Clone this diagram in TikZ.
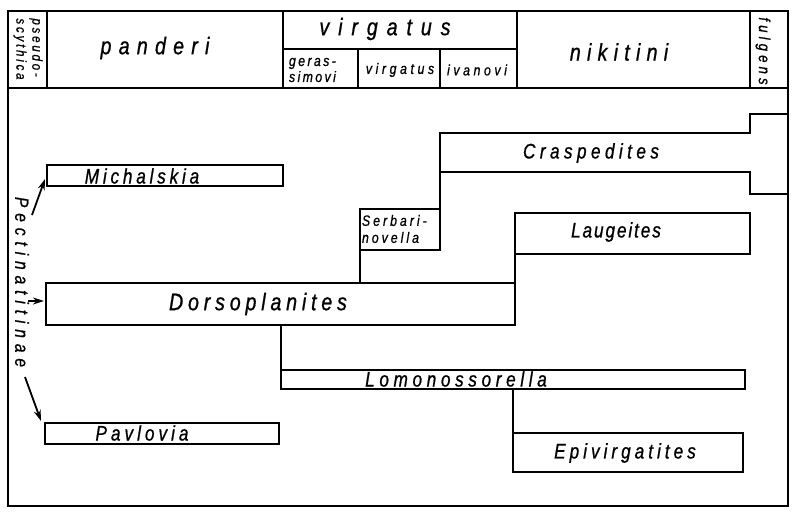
\documentclass[tikz,border=0pt]{standalone}
\usepackage{fontspec}
\setmainfont{Liberation Sans}
\newfontfamily\labf{Liberation Sans}[FakeStretch=0.82,FakeBold=0.8]
\usetikzlibrary{arrows.meta}
\newcommand{\lf}[3]{\labf\fontsize{#1}{#2}\selectfont\itshape\addfontfeature{LetterSpace=#3}}
\tikzset{
  box/.style={draw, rectangle, inner sep=0pt, outer sep=0pt, anchor=north west},
  lbl/.style={inner sep=0pt, outer sep=0pt},
  arr/.style={line width=1.8pt, -{Stealth[length=11pt,width=7pt]}}
}
\begin{document}
\begin{tikzpicture}[x=1pt,y=-1pt,line width=1.6pt]
\useasboundingbox (0,0) rectangle (797,517);
% frame and header cells
\node[box, minimum width=780pt, minimum height=495pt] (frame) at (8,11) {};
\node[box, minimum width=39pt, minimum height=77pt] (hpseudo) at (8,11) {};
\node[box, minimum width=236pt, minimum height=77pt] (hpand) at (47,11) {};
\node[box, minimum width=234pt, minimum height=38pt] (hvirg) at (283,11) {};
\node[box, minimum width=75pt, minimum height=39pt] (hger) at (283,49) {};
\node[box, minimum width=82pt, minimum height=39pt] (hvirs) at (358,49) {};
\node[box, minimum width=77pt, minimum height=39pt] (hivan) at (440,49) {};
\node[box, minimum width=233pt, minimum height=77pt] (hnik) at (517,11) {};
\node[box, minimum width=38pt, minimum height=77pt] (hfulg) at (750,11) {};
% header labels
\node[lbl, rotate=-90, align=left, font=\lf{14}{16}{20}] (tpseudo) at (28,49) {pseudo-\\scythica};
\node[lbl, font=\lf{24}{28}{30}] (tpand) at (155,48) {panderi};
\node[lbl, font=\lf{24}{28}{37}] (tvirg) at (385,29) {virgatus};
\node[lbl, anchor=west, align=left, font=\lf{15}{16}{16}] (tger) at (289,70) {geras-\\simovi};
\node[lbl, font=\lf{15}{17}{24}] (tvirs) at (400,70) {virgatus};
\node[lbl, font=\lf{15}{17}{24}] (tivan) at (477,70) {ivanovi};
\node[lbl, font=\lf{24}{28}{26}] (tnik) at (619,52) {nikitini};
\node[lbl, rotate=-90, font=\lf{16}{18}{26}] (tfulg) at (763,51) {fulgens};
% body boxes
\node[box, minimum width=236pt, minimum height=21pt] (mich) at (47,165) {};
\node[box, minimum width=469pt, minimum height=42pt] (dors) at (46,283) {};
\node[box, minimum width=80pt, minimum height=41pt] (serb) at (360,209) {};
\node[box, minimum width=235pt, minimum height=41pt] (laug) at (515,213) {};
\node[box, minimum width=464pt, minimum height=19pt] (lomo) at (281,370) {};
\node[box, minimum width=230pt, minimum height=39pt] (epiv) at (513,433) {};
\node[box, minimum width=234pt, minimum height=21pt] (pavl) at (45,423) {};
% Craspedites (open outline reaching into the fulgens zone)
\coordinate (crNW) at (440,133);
\coordinate (crSW) at (440,172);
\coordinate (crNE) at (750,133);
\coordinate (crSE) at (750,172);
\coordinate (crTop) at (750,114);
\coordinate (crBot) at (750,194);
\draw (frame.east |- crTop) -- (crTop) -- (crNE) -- (crNW) -- (crSW) -- (crSE) -- (crBot) -- (frame.east |- crBot);
% connectors
\draw (crSW) -- (serb.north east);
\draw (serb.south west) -- (serb.south west |- dors.north);
\draw (laug.south west) -- (dors.north east);
\draw (lomo.north west |- dors.south) -- (lomo.north west);
\draw (epiv.north west |- lomo.south) -- (epiv.north west);
% body labels
\node[lbl, font=\lf{21}{24}{18}] (tmich) at (142,176) {Michalskia};
\node[lbl, font=\lf{24}{28}{20}] (tdors) at (258,304) {Dorsoplanites};
\node[lbl, anchor=west, align=left, font=\lf{15}{17}{20}] (tserb) at (362,229) {Serbari-\\novella};
\node[lbl, font=\lf{21}{24}{21}] (tcras) at (591,153) {Craspedites};
\node[lbl, font=\lf{21}{24}{9}] (tlaug) at (616,232) {Laugeites};
\node[lbl, font=\lf{21}{24}{22}] (tlomo) at (456,379) {Lomonossorella};
\node[lbl, font=\lf{21}{24}{19}] (tepiv) at (625,453) {Epivirgatites};
\node[lbl, font=\lf{21}{24}{19}] (tpavl) at (142,433) {Pavlovia};
\node[lbl, rotate=-90, font=\lf{19}{22}{31}] (tpect) at (22,282) {Pectinatitinae};
% arrows
\coordinate (a1s) at (32,215);
\coordinate (a1e) at (45,179);
\coordinate (a2s) at (28,301);
\coordinate (a2e) at (44,301);
\coordinate (a3s) at (25,377);
\coordinate (a3e) at (41,421);
\draw[arr] (a1s) -- (a1e);
\draw[arr] (a2s) -- (a2e);
\draw[arr] (a3s) -- (a3e);
\end{tikzpicture}
\end{document}
